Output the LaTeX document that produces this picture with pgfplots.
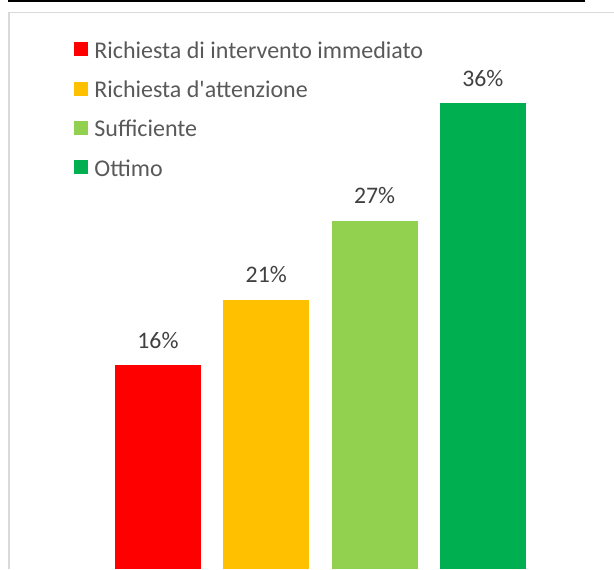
\documentclass[border=0pt]{standalone}
\usepackage{pgfplots}
\pgfplotsset{compat=1.18}
\usepackage{fontspec}
\setmainfont{Carlito}
\definecolor{cRed}{HTML}{FF0000}
\definecolor{cOrange}{HTML}{FFC000}
\definecolor{cLGreen}{HTML}{92D050}
\definecolor{cGreen}{HTML}{00B050}
\definecolor{labelgray}{HTML}{404040}
\definecolor{legendgray}{HTML}{595959}
\definecolor{framegray}{HTML}{D9D9D9}
\begin{document}
\begin{tikzpicture}[x=0.75pt,y=0.75pt]
\useasboundingbox (0,0) rectangle (614,569);
% chart frame (light gray) and slice of table above
\draw[framegray, line width=1.4pt] (8.8,0) -- (8.8,556.5) -- (620,556.5);
\fill[black] (8,569) rectangle (585,566.6);
\begin{axis}[
  at={(77.85pt,0pt)}, anchor=south west,
  scale only axis, width=324.9pt, height=388.8pt,
  xmin=-0.5, xmax=3.5, ymin=0.43, ymax=40,
  axis lines=none,
  ybar, bar width=64.5pt, bar shift=0pt,
  /pgf/number format/assume math mode=true,
  nodes near coords={\pgfmathprintnumber{\pgfplotspointmeta}\%},
  every node near coord/.append style={anchor=base, yshift=12.75pt, inner sep=0pt,
     font=\fontsize{17.8}{20}\selectfont, text=labelgray},
  legend image code/.code={\fill[#1] (0pt,1.5pt) rectangle (10.1pt,12pt);},
  legend style={at={(-0.0688,1.0166)}, anchor=north west, draw=none, fill=none,
     inner sep=0pt, row sep=17.5pt,
     font=\fontsize{18}{20}\selectfont, text=legendgray,
     nodes={inner sep=0pt, text height=12pt, text depth=0pt},
     cells={anchor=base west},
     /tikz/every odd column/.append style={column sep=5pt}},
]
\addplot[fill=cRed, draw=none] coordinates {(0,16)};
\addlegendentry{Richiesta di intervento immediato}
\addplot[fill=cOrange, draw=none] coordinates {(1,21)};
\addlegendentry{Richiesta d\textquotesingle attenzione}
\addplot[fill=cLGreen, draw=none] coordinates {(2,27)};
\addlegendentry{Sufficiente}
\addplot[fill=cGreen, draw=none] coordinates {(3,36)};
\addlegendentry{Ottimo}
\end{axis}
\end{tikzpicture}
\end{document}
